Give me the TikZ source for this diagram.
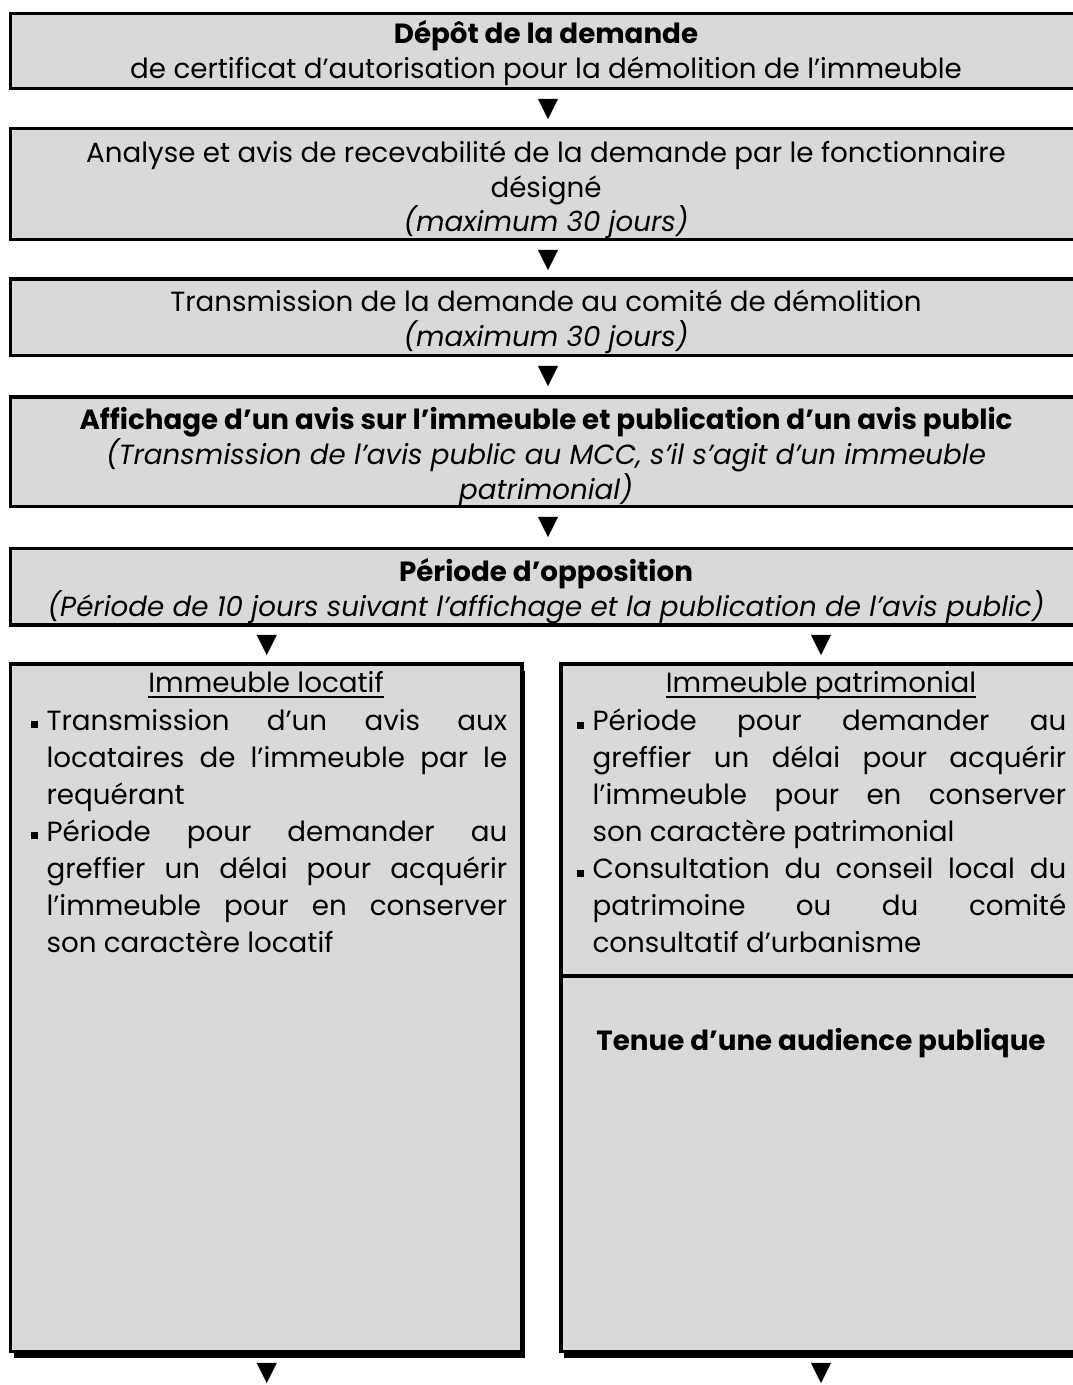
\documentclass[tikz,border=0pt]{standalone}
\usepackage{fontspec}
\setmainfont{Poppins}
\newfontfamily\symb{DejaVu Sans}
\usepackage{tikz}
\usetikzlibrary{positioning, shadows}
\usepackage{xcolor}
\definecolor{fond}{RGB}{217,217,217}
\newcommand{\puce}{\noindent\hangindent=11.5pt\hangafter=1\hbox to 11.5pt{\raisebox{1.6pt}{\rule{5.4pt}{5.4pt}}\hss}\ignorespaces}

\begin{document}
\begin{tikzpicture}[x=0.75pt,y=-0.75pt,
  cadre/.style={draw=black,fill=fond,line width=2.4pt},
  ombre/.style={drop shadow={shadow xshift=2.25pt,shadow yshift=-4.9pt,opacity=1,fill=black}},
  texte/.style={align=center,inner sep=0pt,font=\fontsize{20.8}{26}\selectfont},
  liste/.style={align=justify,inner sep=0pt,anchor=north west,font=\fontsize{20.8}{27.75}\selectfont,
    execute at begin node={\tolerance=10000\hyphenpenalty=10000\spaceskip=.26em plus 2em minus .1em}},
  titre/.style={inner sep=0pt,anchor=base,font=\fontsize{20.8}{22}\selectfont},
  fleche/.style={inner sep=0pt,font=\symb\fontsize{20}{20}\selectfont}]
\useasboundingbox (0,0) rectangle (1073,1385);

\draw[cadre] (10.5,13.5) rectangle (1085,88.5);
\node[texte] (depot) at (546,53) {\textbf{Dépôt de la demande}\\de certificat d’autorisation pour la démolition de l’immeuble};
\node[fleche] (f1) at (548,110) {▼};

\draw[cadre] (10.5,128.5) rectangle (1085,239.5);
\node[texte] (analyse) at (546,190) {Analyse et avis de recevabilité de la demande par le fonctionnaire\\désigné\\\textit{(maximum 30 jours)}};
\node[fleche] (f2) at (548,261) {▼};

\draw[cadre] (10.5,279) rectangle (1085,355.5);
\node[texte] (transmission) at (546,322) {Transmission de la demande au comité de démolition\\\textit{(maximum 30 jours)}};
\node[fleche] (f3) at (548,377) {▼};

\draw[cadre] (10.5,397) rectangle (1085,506.5);
\node[texte] (affichage) at (546,457) {\textbf{Affichage d’un avis sur l’immeuble et publication d’un avis public}\\\textit{(Transmission de l’avis public au MCC, s’il s’agit d’un immeuble}\\\textit{patrimonial)}};
\node[fleche] (f4) at (548,528) {▼};

\draw[cadre] (10.5,548.5) rectangle (1085,625);
\node[texte] (opposition) at (546,591) {\textbf{Période d’opposition}\\\textit{(Période de 10 jours suivant l’affichage et la publication de l’avis public)}};
\node[fleche] (f5) at (267,646) {▼};
\node[fleche] (f6) at (821,646) {▼};

\draw[cadre,ombre] (10.5,664) rectangle (522,1351.5);
\node[titre] (locatif) at (266,692) {Immeuble locatif};
\draw[line width=1.4pt] ([yshift=-3.75pt]locatif.base west) -- ([yshift=-3.75pt]locatif.base east);
\node[liste,text width=357pt] (locatif-liste) at (31,709) {%
\puce Transmission d’un avis aux\linebreak locataires de l’immeuble par le\linebreak requérant\par
\puce Période pour demander au\linebreak greffier un délai pour acquérir\linebreak l’immeuble pour en conserver\linebreak son caractère locatif\par};

\draw[cadre,ombre] (561,664) rectangle (1085,1351.5);
\node[titre] (patrimonial) at (821,692) {Immeuble patrimonial};
\draw[line width=1.4pt] ([yshift=-3.75pt]patrimonial.base west) -- ([yshift=-3.75pt]patrimonial.base east);
\node[liste,text width=366.75pt] (patrimonial-liste) at (577,709) {%
\puce Période pour demander au\linebreak greffier un délai pour acquérir\linebreak l’immeuble pour en conserver\linebreak son caractère patrimonial\par
\puce Consultation du conseil local du\linebreak patrimoine ou du comité\linebreak consultatif d’urbanisme\par};
\draw[line width=2.4pt] (561,976) -- (1085,976);
\node[titre] (audience) at (821,1050) {\textbf{Tenue d’une audience publique}};

\node[fleche] (f7) at (267,1374) {▼};
\node[fleche] (f8) at (821,1374) {▼};
\end{tikzpicture}
\end{document}
